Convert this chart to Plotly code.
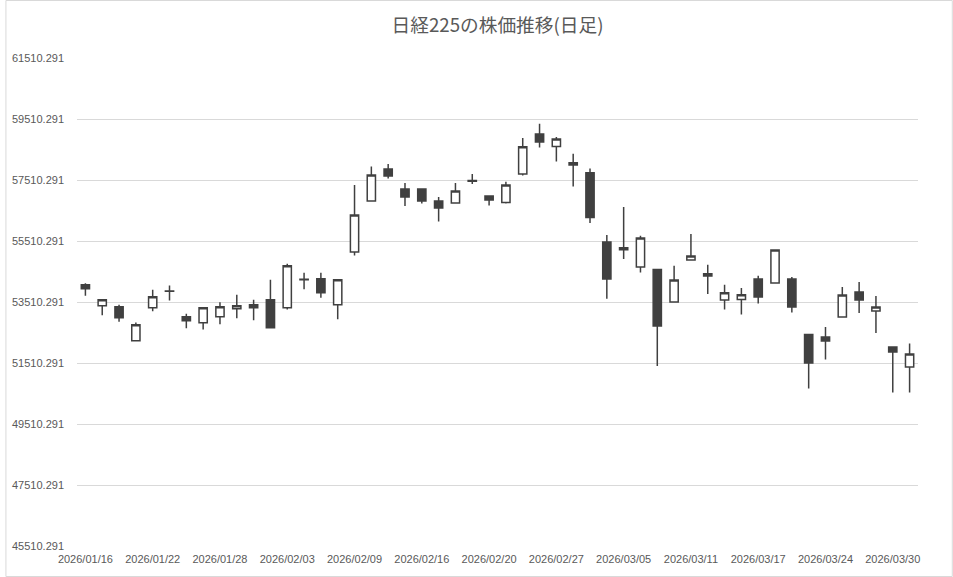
import plotly.graph_objects as go

dates = [
    "2026/01/16", "2026/01/19", "2026/01/20", "2026/01/21", "2026/01/22",
    "2026/01/23", "2026/01/26", "2026/01/27", "2026/01/28", "2026/01/29",
    "2026/01/30", "2026/02/02", "2026/02/03", "2026/02/04", "2026/02/05",
    "2026/02/06", "2026/02/09", "2026/02/10", "2026/02/12", "2026/02/13",
    "2026/02/16", "2026/02/17", "2026/02/18", "2026/02/19", "2026/02/20",
    "2026/02/24", "2026/02/25", "2026/02/26", "2026/02/27", "2026/03/02",
    "2026/03/03", "2026/03/04", "2026/03/05", "2026/03/06", "2026/03/09",
    "2026/03/10", "2026/03/11", "2026/03/12", "2026/03/13", "2026/03/16",
    "2026/03/17", "2026/03/18", "2026/03/19", "2026/03/23", "2026/03/24",
    "2026/03/25", "2026/03/26", "2026/03/27", "2026/03/30", "2026/03/31",
]

open_ = [
    54074, 53385, 53353, 52238, 53320, 53860, 53025, 52828, 53025, 53287,
    53418, 53582, 53320, 54260, 54271, 53418, 55149, 56821, 57871, 57215,
    57215, 56821, 56756, 57490, 56985, 56775, 57707, 59018, 58612, 58002,
    57749, 55477, 55225, 54657, 54579, 53510, 54887, 54362, 53575, 53595,
    54264, 54133, 54264, 52447, 52362, 53018, 53838, 53215, 52034, 51378,
]
high = [
    54127, 53600, 53418, 52838, 53910, 54051, 53123, 53330, 53504, 53746,
    53582, 54238, 54763, 54467, 54467, 54250, 57346, 57956, 58035, 57412,
    57235, 56953, 57412, 57707, 56990, 57454, 58887, 59356, 58920, 58372,
    57890, 55707, 56625, 55684, 54580, 54700, 55740, 54733, 54077, 53969,
    54372, 55220, 54330, 52460, 52690, 54002, 54166, 53707, 52040, 52152,
]
low = [
    53714, 53077, 52861, 52215, 53208, 53559, 52651, 52608, 52782, 52979,
    52913, 52640, 53264, 53930, 53648, 52946, 55038, 56800, 57563, 56657,
    56743, 56152, 56740, 57379, 56677, 56743, 57661, 58579, 58120, 57300,
    56100, 53618, 54920, 54480, 51411, 53490, 54870, 53772, 53267, 53103,
    53464, 54120, 53169, 50677, 51628, 53000, 53149, 52493, 50546, 50546,
]
close = [
    53943, 53582, 52992, 52763, 53680, 53875, 52894, 53320, 53353, 53385,
    53320, 52664, 54697, 54240, 53812, 54238, 56362, 57674, 57641, 56953,
    56821, 56592, 57149, 57470, 56854, 57346, 58602, 58756, 58854, 58077,
    56284, 54264, 55290, 55608, 52723, 54231, 55018, 54438, 53815, 53749,
    53674, 55215, 53346, 51510, 52231, 53739, 53575, 53346, 51870, 51805,
]

y_ticks = [45510.291 + 2000 * k for k in range(9)]
y_tick_text = ["%.3f" % v for v in y_ticks]
x_tick_idx = list(range(0, len(dates), 4))
x_tick_vals = [dates[i] for i in x_tick_idx]

title_text = "日経225の株価推移(日足)"

LINE = "#404040"
TXT = "#595959"
GRID = "#d9d9d9"
FONT = "Liberation Sans, Noto Sans CJK JP, sans-serif"

fig = go.Figure(
    go.Candlestick(
        x=dates,
        open=open_,
        high=high,
        low=low,
        close=close,
        increasing=dict(line=dict(color=LINE, width=1.5), fillcolor="#ffffff"),
        decreasing=dict(line=dict(color=LINE, width=1.5), fillcolor=LINE),
        whiskerwidth=0,
        showlegend=False,
        hoverinfo="x+y",
    )
)

W, H = 953, 577
L, R, T, B = 72, 35, 58, 31
pw, ph = W - L - R, H - T - B

fig.update_layout(
    width=W,
    height=H,
    margin=dict(l=L, r=R, t=T, b=B, pad=0),
    paper_bgcolor="#ffffff",
    plot_bgcolor="#ffffff",
    font=dict(family=FONT, size=11, color=TXT),
    title=dict(
        text=title_text,
        x=0.5,
        xref="paper",
        xanchor="center",
        y=1 - 25 / H,
        yanchor="middle",
        font=dict(family="Noto Sans CJK JP, sans-serif", size=18.7, color=TXT),
    ),
    xaxis=dict(
        type="category",
        categoryorder="array",
        categoryarray=dates,
        range=[-0.5, len(dates) - 0.5],
        rangeslider=dict(visible=False),
        tickmode="array",
        tickvals=x_tick_vals,
        ticktext=x_tick_vals,
        tickangle=0,
        showgrid=False,
        showline=False,
        zeroline=False,
        ticks="",
        ticklabelstandoff=5,
        tickfont=dict(size=11, color=TXT),
    ),
    yaxis=dict(
        range=[45510.291, 61510.291],
        tickmode="array",
        tickvals=y_ticks,
        ticktext=y_tick_text,
        showgrid=True,
        gridcolor=GRID,
        gridwidth=1,
        zeroline=False,
        showline=False,
        ticks="",
        ticklabelstandoff=12,
        tickfont=dict(size=11, color=TXT),
    ),
    shapes=[
        dict(
            type="rect",
            xref="paper",
            yref="paper",
            x0=(0.5 - L) / pw,
            x1=(W - 0.5 - L) / pw,
            y0=(0.5 - B) / ph,
            y1=(H - 0.5 - B) / ph,
            line=dict(color=GRID, width=1),
            fillcolor="rgba(0,0,0,0)",
            layer="above",
        )
    ],
)

fig.write_html(
    "out.html",
    config={"displayModeBar": False},
    post_script="document.body.style.margin='0';document.body.style.padding='0';",
)
